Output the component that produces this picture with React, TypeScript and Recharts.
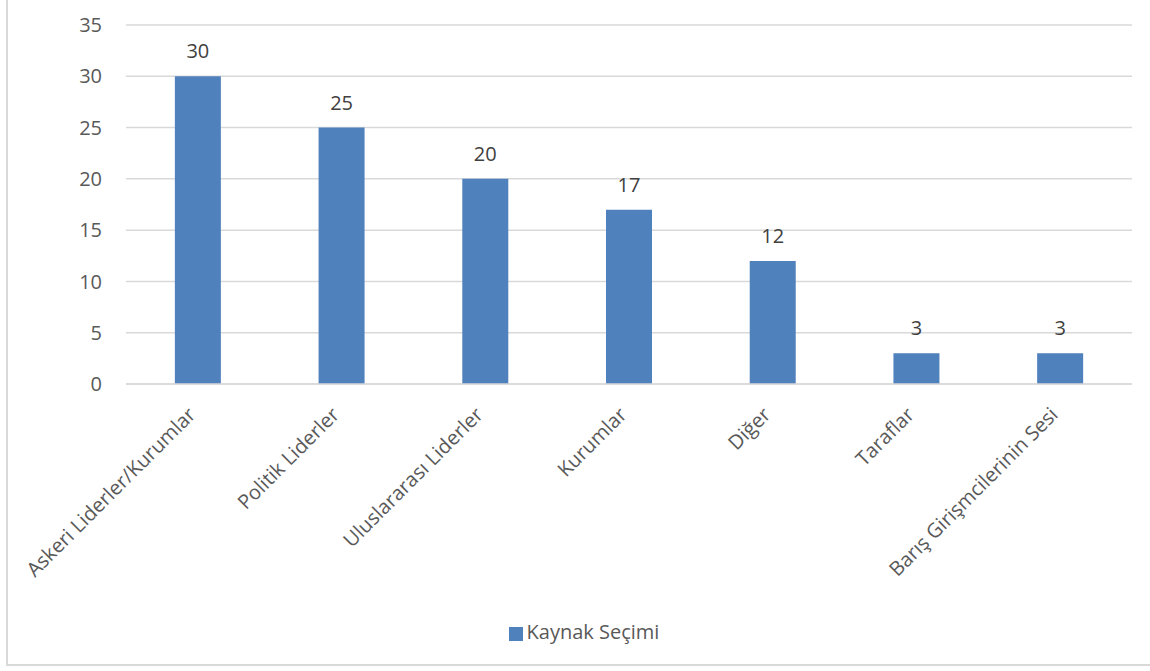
import { BarChart, Bar, XAxis, YAxis, CartesianGrid, Legend, LabelList } from 'recharts';

const categories = [
    'Askeri Liderler/Kurumlar',
    'Politik Liderler',
    'Uluslararası Liderler',
    'Kurumlar',
    'Diğer',
    'Taraflar',
    'Barış Girişmcilerinin Sesi',
];
const values = [30, 25, 20, 17, 12, 3, 3];
const yTicks = [0, 5, 10, 15, 20, 25, 30, 35];

const data = categories.map((name, i) => ({ name, value: values[i] }));

const FONT = '"Open Sans", sans-serif';

const AngledTick = (props: any) => {
    const { x, y, payload } = props;
    const ax = x - 1;
    const ay = y + 24;
    return (
        <text
            x={ax}
            y={ay}
            transform={`rotate(-45, ${ax}, ${ay})`}
            textAnchor="end"
            fontSize={20}
            fontFamily={FONT}
            fill="#595959"
        >
            {payload.value}
        </text>
    );
};

const App = () => {
    return (
        <div style={{ position: 'absolute', left: 0, top: 0, width: 1150, height: 671, background: '#fff', overflow: 'hidden' }}>
            <div
                style={{
                    position: 'absolute',
                    left: 6,
                    top: -4,
                    width: 1170,
                    height: 670,
                    border: '2px solid #d9d9d9',
                    boxSizing: 'border-box',
                }}
            />
            <BarChart
                width={1150}
                height={671}
                data={data}
                margin={{ top: 25, right: 18, left: 0, bottom: 0 }}
                barCategoryGap="34%"
            >
                <CartesianGrid vertical={false} stroke="#d9d9d9" strokeWidth={1.5} />
                <XAxis
                    dataKey="name"
                    interval={0}
                    height={260}
                    tick={<AngledTick />}
                    tickLine={false}
                    axisLine={{ stroke: '#d9d9d9', strokeWidth: 1.5 }}
                />
                <YAxis
                    width={126}
                    domain={[0, 35]}
                    ticks={yTicks}
                    axisLine={false}
                    tickLine={false}
                    tickMargin={18}
                    tick={{ fontSize: 20, fontFamily: FONT, fill: '#595959' }}
                />
                <Legend
                    verticalAlign="bottom"
                    align="center"
                    iconType="square"
                    iconSize={14}
                    wrapperStyle={{ left: 23, top: 618, fontFamily: FONT, fontSize: 20 }}
                    formatter={(v: string) => <span style={{ color: '#595959' }}>{v}</span>}
                />
                <Bar dataKey="value" name="Kaynak Seçimi" fill="#4F81BD" isAnimationActive={false}>
                    <LabelList
                        dataKey="value"
                        position="top"
                        offset={18}
                        style={{ fontSize: 20, fontFamily: FONT, fill: '#404040' }}
                    />
                </Bar>
            </BarChart>
        </div>
    );
};

export default App;
